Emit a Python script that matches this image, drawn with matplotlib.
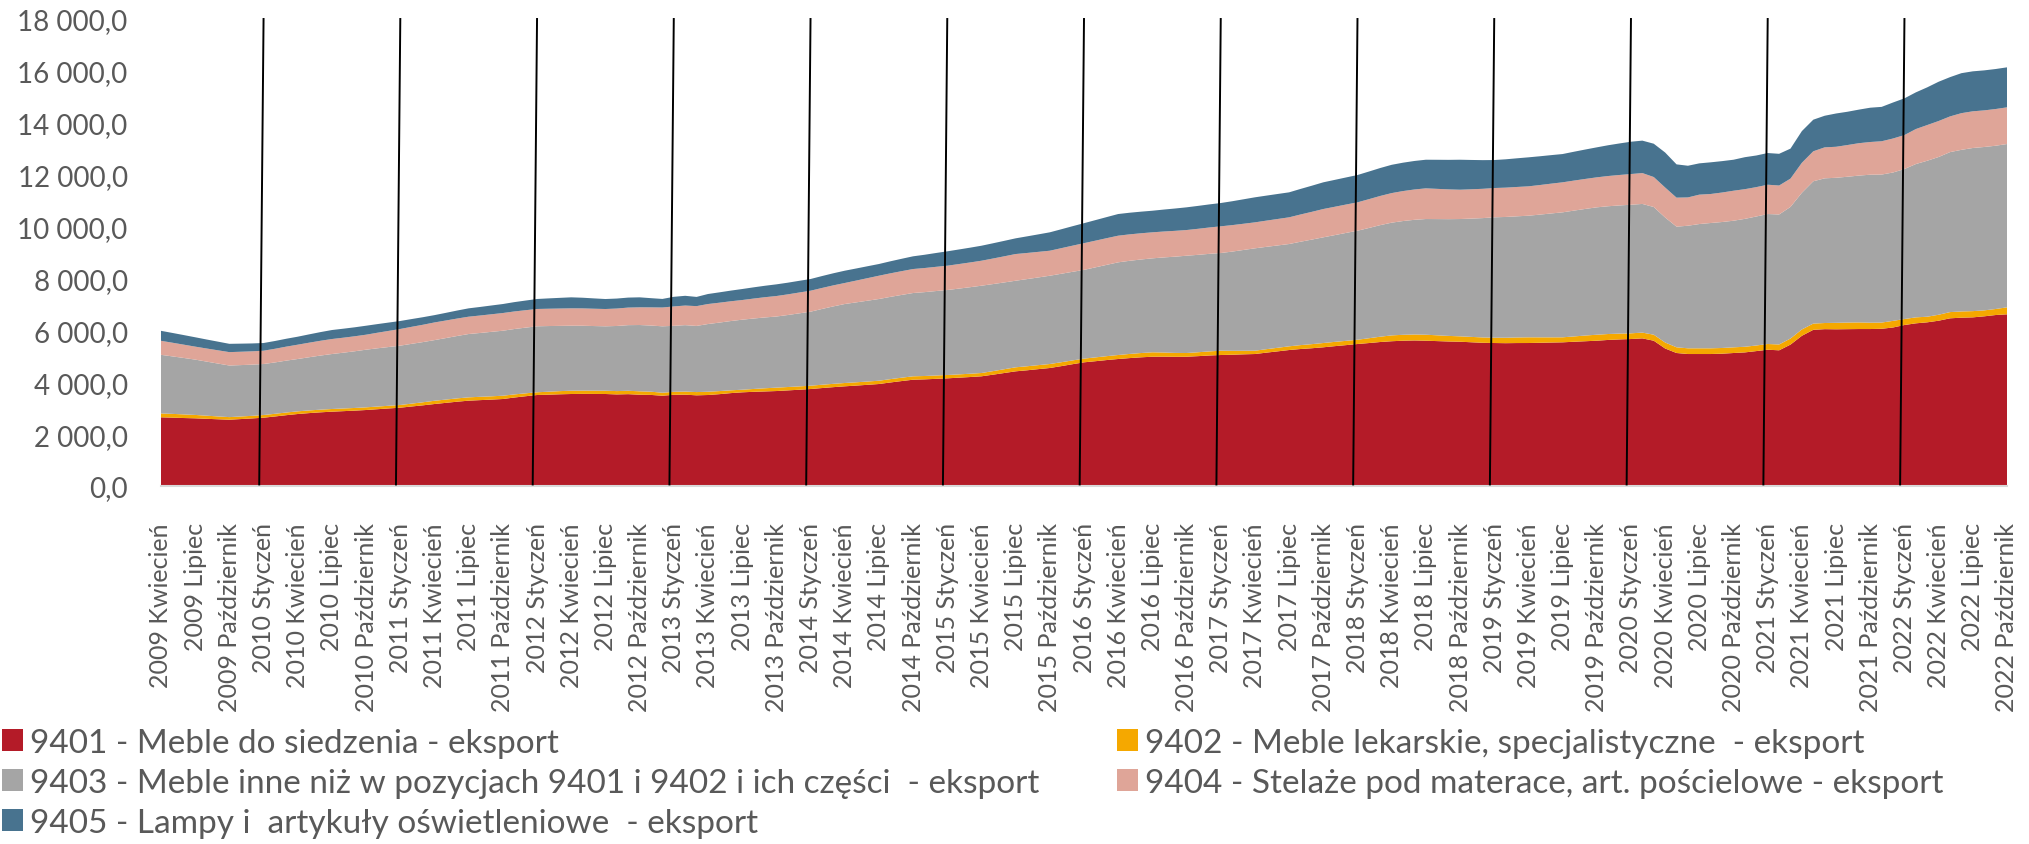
import numpy as np
import matplotlib
matplotlib.use('Agg')
import matplotlib.pyplot as plt
from matplotlib.patches import Patch

plt.rcParams['font.family'] = ['Lato', 'DejaVu Sans']

# miesiące: 2009 kwiecień .. 2022 październik (163 punkty)
first_year, first_month = 2009, 4
n_months = 163
month_names = {1: 'Styczeń', 4: 'Kwiecień', 7: 'Lipiec', 10: 'Październik'}

labels = [
    '9401 - Meble do siedzenia - eksport',
    '9402 - Meble lekarskie, specjalistyczne  - eksport',
    '9403 - Meble inne niż w pozycjach 9401 i 9402 i ich części  - eksport',
    '9404 - Stelaże pod materace, art. pościelowe - eksport',
    '9405 - Lampy i  artykuły oświetleniowe  - eksport',
]
colors = ['#b41b28', '#f5a800', '#a5a5a5', '#dfa598', '#48738f']

meble_9401 = [
    2648, 2635, 2620, 2609, 2590, 2572, 2555, 2580, 2605,
    2633, 2680, 2730, 2775, 2810, 2840, 2865, 2885, 2905, 2929, 2960, 2990,
    3019, 3065, 3110, 3160, 3205, 3250, 3289, 3310, 3330, 3353, 3410, 3460,
    3507, 3520, 3535, 3546, 3550, 3548, 3546, 3530, 3540, 3519, 3510, 3480,
    3515, 3520, 3495, 3507, 3540, 3580, 3611, 3630, 3645, 3660, 3685, 3710,
    3738, 3775, 3810, 3842, 3870, 3900, 3931, 3990, 4045, 4097, 4110, 4130,
    4150, 4175, 4200, 4228, 4290, 4355, 4420, 4460, 4505, 4548, 4620, 4695,
    4767, 4810, 4855, 4895, 4930, 4960, 4983, 4985, 4980, 4983, 5005, 5030,
    5049, 5060, 5075, 5087, 5140, 5190, 5241, 5280, 5310, 5346, 5390, 5430,
    5473, 5510, 5550, 5580, 5600, 5610, 5600, 5585, 5570, 5561, 5540, 5520,
    5511, 5505, 5510, 5511, 5520, 5530, 5538, 5560, 5580, 5600, 5630, 5650,
    5665, 5690, 5600, 5300, 5126, 5087, 5087, 5087, 5100, 5126, 5150, 5200,
    5253, 5230, 5450, 5790, 6020, 6045, 6040, 6045, 6050, 6050, 6060, 6110,
    6205, 6270, 6309, 6371, 6463, 6488, 6500, 6540, 6590, 6617,
]

meble_9402 = [
    150, 145, 140, 130, 120, 110, 100, 100, 100,
    103, 103, 103, 103, 103, 103, 103, 103, 103, 103, 103, 103,
    105, 110, 118, 125, 127, 128, 128, 128, 127, 127, 120, 112,
    105, 115, 122, 127, 127, 127, 127, 128, 130, 131, 125, 115,
    115, 120, 125, 127, 118, 108, 100, 110, 122, 131, 130, 129,
    128, 128, 128, 128, 127, 127, 127, 129, 130, 131, 130, 129,
    128, 127, 127, 127, 137, 146, 155, 155, 154, 154, 150, 146,
    143, 147, 150, 154, 160, 165, 170, 160, 150, 143, 150, 158,
    166, 150, 138, 128, 133, 138, 143, 150, 158, 165, 165, 165,
    165, 185, 205, 225, 228, 230, 231, 223, 215, 208, 207, 206,
    205, 210, 215, 220, 210, 200, 193, 205, 220, 231, 228, 224,
    220, 222, 232, 231, 220, 220, 220, 220, 220, 219, 217, 216,
    220, 225, 235, 245, 240, 237, 250, 255, 255, 245, 240, 255,
    231, 230, 216, 230, 240, 240, 240, 230, 232, 270,
]

meble_9403 = [
    2258, 2216, 2175, 2133, 2085, 2037, 1989, 1980, 1972,
    1966, 1980, 2000, 2017, 2050, 2085, 2119, 2150, 2185, 2222, 2245, 2265,
    2286, 2305, 2320, 2338, 2370, 2405, 2441, 2460, 2485, 2505, 2520, 2532,
    2544, 2530, 2515, 2505, 2500, 2490, 2482, 2510, 2530, 2555, 2550, 2560,
    2544, 2560, 2550, 2609, 2640, 2670, 2699, 2715, 2730, 2741, 2775, 2815,
    2852, 2920, 2985, 3044, 3080, 3115, 3149, 3170, 3190, 3210, 3232, 3255,
    3276, 3305, 3335, 3365, 3355, 3345, 3337, 3360, 3380, 3403, 3410, 3415,
    3420, 3470, 3520, 3572, 3590, 3605, 3622, 3665, 3710, 3750, 3755, 3760,
    3765, 3825, 3885, 3946, 3945, 3944, 3943, 3985, 4030, 4074, 4115, 4160,
    4201, 4250, 4300, 4345, 4385, 4420, 4459, 4480, 4500, 4521, 4560, 4600,
    4640, 4655, 4670, 4687, 4730, 4775, 4817, 4850, 4880, 4910, 4925, 4940,
    4956, 4960, 4921, 4818, 4650, 4725, 4790, 4830, 4855, 4880, 4930, 4972,
    5010, 5010, 5072, 5268, 5485, 5577, 5590, 5620, 5659, 5704, 5704, 5719,
    5781, 5909, 6012, 6080, 6166, 6229, 6288, 6297, 6293, 6294,
]

meble_9404 = [
    540, 527, 513, 500, 505, 511, 516, 515, 514,
    513, 526, 539, 552, 561, 570, 578, 578, 578, 578, 600, 622,
    643, 656, 668, 681, 677, 672, 668, 673, 677, 682, 677, 672,
    667, 668, 669, 670, 669, 668, 667, 672, 677, 682, 700, 725,
    747, 755, 763, 771, 767, 762, 758, 769, 780, 790, 796, 803,
    809, 809, 810, 810, 840, 869, 898, 907, 916, 925, 929, 933,
    937, 946, 954, 963, 985, 1007, 1029, 1007, 986, 964, 986, 1008,
    1030, 1029, 1028, 1027, 1019, 1011, 1003, 999, 995, 990, 1003, 1016,
    1029, 1020, 1010, 1001, 1010, 1020, 1029, 1050, 1070, 1091, 1092, 1094,
    1095, 1110, 1125, 1140, 1155, 1169, 1183, 1165, 1148, 1130, 1130, 1129,
    1129, 1130, 1131, 1132, 1140, 1149, 1157, 1157, 1156, 1156, 1165, 1174,
    1183, 1190, 1156, 1156, 1118, 1091, 1133, 1118, 1137, 1156, 1144, 1132,
    1130, 1117, 1091, 1156, 1156, 1194, 1195, 1222, 1249, 1260, 1284, 1310,
    1310, 1349, 1376, 1387, 1376, 1414, 1414, 1411, 1415, 1414,
]

lampy_9405 = [
    385, 377, 369, 361, 347, 334, 320, 312, 304,
    296, 300, 304, 308, 321, 334, 347, 347, 346, 346, 333, 321,
    308, 299, 291, 282, 295, 309, 322, 330, 339, 347, 360, 372,
    385, 398, 411, 424, 411, 398, 385, 385, 385, 385, 355, 330,
    371, 376, 355, 386, 399, 411, 424, 433, 441, 450, 450, 451,
    451, 459, 466, 474, 466, 459, 451, 464, 477, 490, 511, 533,
    554, 562, 570, 578, 587, 596, 605, 640, 674, 709, 729, 750,
    770, 792, 813, 835, 834, 833, 832, 846, 861, 875, 883, 890,
    898, 920, 943, 965, 964, 964, 963, 985, 1007, 1029, 1037, 1044,
    1052, 1065, 1077, 1090, 1094, 1099, 1103, 1121, 1138, 1156, 1130, 1105,
    1079, 1092, 1105, 1118, 1109, 1099, 1090, 1112, 1134, 1156, 1186, 1216,
    1246, 1250, 1284, 1349, 1283, 1221, 1206, 1221, 1210, 1195, 1233, 1219,
    1221, 1222, 1156, 1221, 1218, 1218, 1283, 1283, 1294, 1322, 1325, 1388,
    1415, 1414, 1453, 1514, 1514, 1541, 1541, 1542, 1542, 1542,
]

series = [meble_9401, meble_9402, meble_9403, meble_9404, lampy_9405]


def month_label(i):
    m = first_month - 1 + i
    year = first_year + m // 12
    month = m % 12 + 1
    return year, month


def fmt_pl(v):
    return f'{v:,.1f}'.replace(',', ' ').replace('.', ',')


x = np.arange(n_months)

fig = plt.figure(figsize=(20.29, 8.45), dpi=100)
ax = fig.add_axes([161 / 2029, 1 - 487 / 845, (2007 - 161) / 2029, 467 / 845])

ax.stackplot(x, *series, colors=colors, linewidth=0, antialiased=True)

ax.set_xlim(0, n_months - 1)
ax.set_ylim(0, 18000)

yt = np.arange(0, 18001, 2000)
ax.set_yticks(yt)
ax.set_yticklabels([fmt_pl(v) for v in yt], fontsize=20, color='#595959')

tick_pos = [i for i in x if month_label(i)[1] in month_names]
tick_lab = [f'{month_label(i)[0]} {month_names[month_label(i)[1]]}' for i in tick_pos]
ax.set_xticks(tick_pos)
ax.set_xticklabels(tick_lab, rotation=90, fontsize=18, color='#595959')
ax.tick_params(axis='both', length=0)
ax.tick_params(axis='x', pad=26)
ax.tick_params(axis='y', pad=24)

for s in ['top', 'right', 'left']:
    ax.spines[s].set_visible(False)
ax.spines['bottom'].set_color('#d9d9d9')
ax.spines['bottom'].set_linewidth(1.5)

# pionowe linie na styczniach (lekko pochylone)
for i in x:
    if month_label(i)[1] == 1:
        ax.plot([i, i - 0.38], [18000, 60], color='black', linewidth=1.4, clip_on=False, zorder=5)

handles = [Patch(facecolor=c, edgecolor='none') for c in colors]
leg_kw = dict(frameon=False, fontsize=24, handlelength=0.63, handleheight=0.63,
              handletextpad=0.2, labelspacing=0.3, borderaxespad=0, borderpad=0,
              labelcolor='#595959')
leg1 = fig.legend([handles[0], handles[2], handles[4]], [labels[0], labels[2], labels[4]],
                  loc='upper left', bbox_to_anchor=(2 / 2029, 1 - 729 / 845), **leg_kw)
leg2 = fig.legend([handles[1], handles[3]], [labels[1], labels[3]],
                  loc='upper left', bbox_to_anchor=(1117 / 2029, 1 - 729 / 845), **leg_kw)

fig.savefig('out.png', dpi=100)
